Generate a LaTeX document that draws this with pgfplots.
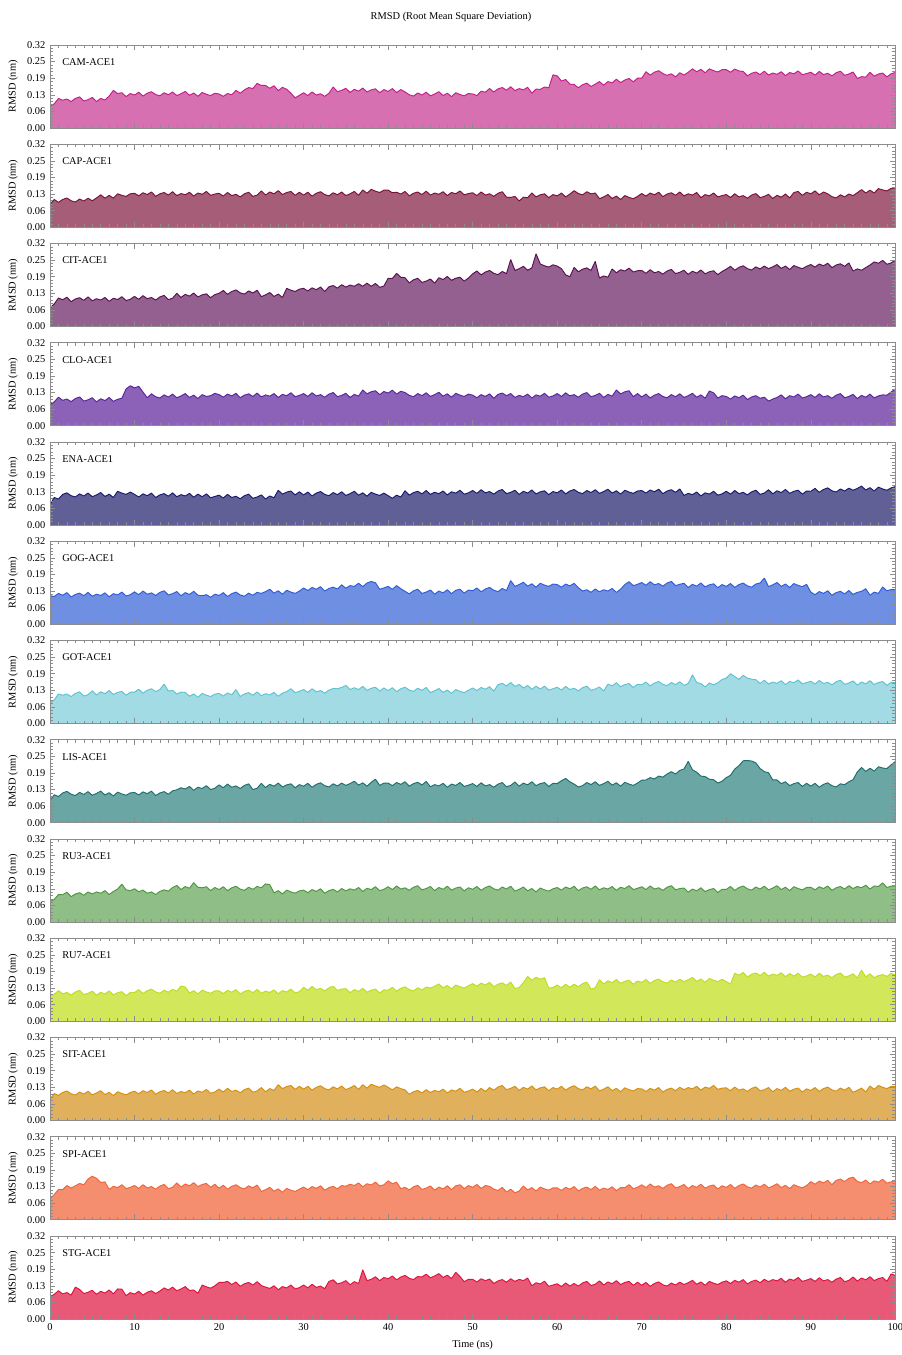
\documentclass[border=0pt]{standalone}
\usepackage{fontspec}
\setmainfont{Liberation Serif}
\usepackage{pgfplots}
\usepackage{pgfplotstable}
\pgfplotsset{compat=1.18}
\newcommand\lbl{\fontsize{7.8}{9}\selectfont}

\definecolor{camL}{HTML}{C21E87}\definecolor{camF}{HTML}{D670B0}
\definecolor{capL}{HTML}{7A0F3A}\definecolor{capF}{HTML}{A65E78}
\definecolor{citL}{HTML}{5A1050}\definecolor{citF}{HTML}{946090}
\definecolor{cloL}{HTML}{58259A}\definecolor{cloF}{HTML}{8C62B8}
\definecolor{enaL}{HTML}{191970}\definecolor{enaF}{HTML}{606096}
\definecolor{gogL}{HTML}{2F5CD6}\definecolor{gogF}{HTML}{6E8FE2}
\definecolor{gotL}{HTML}{5FC2D0}\definecolor{gotF}{HTML}{A2DBE4}
\definecolor{lisL}{HTML}{1D6E6C}\definecolor{lisF}{HTML}{69A6A4}
\definecolor{ruthreeL}{HTML}{4C9640}\definecolor{ruthreeF}{HTML}{8FBF86}
\definecolor{rusevenL}{HTML}{BEDC20}\definecolor{rusevenF}{HTML}{D2E75A}
\definecolor{sitL}{HTML}{D4900F}\definecolor{sitF}{HTML}{E0B05C}
\definecolor{spiL}{HTML}{F0643A}\definecolor{spiF}{HTML}{F48E6E}
\definecolor{stgL}{HTML}{DC143C}\definecolor{stgF}{HTML}{E85877}

% RMSD values, one every 0.5 ns from 0 to 100 ns (201 values per series)
\pgfplotstableread[row sep=\\]{y\\
0.085\\0.093\\0.114\\0.107\\0.112\\0.102\\0.114\\0.120\\0.104\\0.109\\0.118\\0.102\\0.114\\0.108\\0.123\\0.145\\0.133\\0.136\\0.121\\0.133\\
0.127\\0.138\\0.123\\0.134\\0.140\\0.129\\0.124\\0.136\\0.128\\0.139\\0.125\\0.132\\0.141\\0.126\\0.135\\0.122\\0.137\\0.130\\0.125\\0.134\\
0.131\\0.122\\0.133\\0.128\\0.145\\0.134\\0.147\\0.156\\0.152\\0.172\\0.164\\0.164\\0.153\\0.163\\0.144\\0.157\\0.149\\0.134\\0.116\\0.126\\
0.136\\0.125\\0.139\\0.127\\0.132\\0.122\\0.134\\0.158\\0.140\\0.145\\0.153\\0.137\\0.149\\0.142\\0.154\\0.139\\0.147\\0.151\\0.136\\0.148\\
0.141\\0.152\\0.137\\0.148\\0.139\\0.128\\0.123\\0.135\\0.127\\0.138\\0.124\\0.131\\0.140\\0.125\\0.134\\0.121\\0.136\\0.129\\0.124\\0.133\\
0.131\\0.125\\0.142\\0.138\\0.152\\0.139\\0.151\\0.156\\0.146\\0.159\\0.144\\0.152\\0.147\\0.157\\0.134\\0.150\\0.149\\0.158\\0.155\\0.205\\
0.201\\0.181\\0.187\\0.169\\0.168\\0.155\\0.167\\0.173\\0.160\\0.169\\0.179\\0.165\\0.179\\0.174\\0.188\\0.175\\0.185\\0.191\\0.178\\0.192\\
0.192\\0.217\\0.204\\0.215\\0.221\\0.210\\0.203\\0.209\\0.197\\0.213\\0.204\\0.215\\0.228\\0.217\\0.226\\0.213\\0.228\\0.221\\0.216\\0.225\\
0.225\\0.215\\0.227\\0.220\\0.218\\0.201\\0.211\\0.216\\0.206\\0.219\\0.204\\0.212\\0.207\\0.217\\0.202\\0.214\\0.209\\0.220\\0.205\\0.210\\
0.215\\0.204\\0.218\\0.206\\0.211\\0.201\\0.213\\0.219\\0.203\\0.208\\0.216\\0.191\\0.198\\0.196\\0.215\\0.200\\0.208\\0.212\\0.197\\0.209\\
0.214\\
}\tcam
\pgfplotstableread[row sep=\\]{y\\
0.088\\0.107\\0.096\\0.107\\0.113\\0.102\\0.097\\0.109\\0.101\\0.112\\0.102\\0.113\\0.125\\0.112\\0.123\\0.112\\0.129\\0.123\\0.119\\0.129\\
0.131\\0.121\\0.133\\0.126\\0.136\\0.119\\0.129\\0.134\\0.124\\0.137\\0.122\\0.130\\0.125\\0.135\\0.120\\0.132\\0.127\\0.138\\0.123\\0.128\\
0.131\\0.120\\0.134\\0.122\\0.127\\0.117\\0.129\\0.135\\0.119\\0.124\\0.140\\0.124\\0.136\\0.129\\0.141\\0.126\\0.134\\0.138\\0.123\\0.135\\
0.124\\0.135\\0.120\\0.131\\0.137\\0.126\\0.121\\0.133\\0.125\\0.136\\0.122\\0.129\\0.138\\0.123\\0.144\\0.131\\0.146\\0.139\\0.134\\0.143\\
0.143\\0.133\\0.135\\0.128\\0.138\\0.121\\0.131\\0.136\\0.126\\0.139\\0.124\\0.132\\0.127\\0.137\\0.122\\0.134\\0.129\\0.140\\0.125\\0.130\\
0.133\\0.122\\0.136\\0.124\\0.129\\0.119\\0.131\\0.137\\0.116\\0.115\\0.119\\0.101\\0.116\\0.114\\0.132\\0.117\\0.125\\0.129\\0.114\\0.126\\
0.121\\0.132\\0.117\\0.128\\0.141\\0.130\\0.125\\0.137\\0.129\\0.132\\0.110\\0.117\\0.126\\0.111\\0.120\\0.107\\0.122\\0.115\\0.110\\0.119\\
0.130\\0.120\\0.132\\0.125\\0.135\\0.118\\0.128\\0.133\\0.123\\0.136\\0.121\\0.129\\0.124\\0.134\\0.114\\0.126\\0.121\\0.132\\0.117\\0.122\\
0.126\\0.115\\0.129\\0.117\\0.122\\0.112\\0.124\\0.130\\0.114\\0.119\\0.127\\0.111\\0.123\\0.116\\0.128\\0.113\\0.134\\0.138\\0.123\\0.135\\
0.129\\0.140\\0.125\\0.136\\0.129\\0.118\\0.113\\0.125\\0.117\\0.128\\0.122\\0.133\\0.145\\0.132\\0.143\\0.132\\0.149\\0.144\\0.140\\0.150\\
0.152\\
}\tcap
\pgfplotstableread[row sep=\\]{y\\
0.072\\0.087\\0.110\\0.103\\0.113\\0.096\\0.106\\0.111\\0.101\\0.114\\0.099\\0.107\\0.102\\0.112\\0.097\\0.109\\0.104\\0.115\\0.100\\0.105\\
0.116\\0.105\\0.119\\0.107\\0.112\\0.102\\0.114\\0.120\\0.104\\0.109\\0.128\\0.112\\0.124\\0.117\\0.129\\0.114\\0.122\\0.126\\0.111\\0.123\\
0.128\\0.139\\0.124\\0.135\\0.141\\0.130\\0.125\\0.137\\0.129\\0.140\\0.115\\0.122\\0.131\\0.116\\0.125\\0.112\\0.147\\0.140\\0.135\\0.144\\
0.147\\0.137\\0.149\\0.142\\0.152\\0.135\\0.153\\0.158\\0.148\\0.161\\0.152\\0.160\\0.155\\0.165\\0.155\\0.167\\0.155\\0.166\\0.151\\0.156\\
0.186\\0.185\\0.205\\0.190\\0.188\\0.168\\0.180\\0.186\\0.170\\0.175\\0.183\\0.167\\0.188\\0.181\\0.193\\0.178\\0.186\\0.190\\0.175\\0.187\\
0.203\\0.214\\0.199\\0.210\\0.216\\0.205\\0.200\\0.212\\0.204\\0.258\\0.216\\0.223\\0.232\\0.217\\0.226\\0.280\\0.241\\0.234\\0.229\\0.238\\
0.233\\0.223\\0.199\\0.192\\0.228\\0.211\\0.221\\0.226\\0.216\\0.251\\0.187\\0.195\\0.190\\0.222\\0.207\\0.219\\0.214\\0.225\\0.210\\0.215\\
0.216\\0.205\\0.219\\0.207\\0.212\\0.202\\0.214\\0.220\\0.204\\0.209\\0.217\\0.201\\0.213\\0.206\\0.218\\0.203\\0.211\\0.215\\0.200\\0.212\\
0.221\\0.232\\0.217\\0.228\\0.234\\0.223\\0.218\\0.230\\0.222\\0.233\\0.223\\0.230\\0.239\\0.224\\0.233\\0.220\\0.235\\0.228\\0.223\\0.232\\
0.239\\0.229\\0.241\\0.234\\0.244\\0.227\\0.237\\0.242\\0.232\\0.245\\0.214\\0.222\\0.217\\0.227\\0.237\\0.249\\0.244\\0.255\\0.240\\0.245\\
0.256\\
}\tcit
\pgfplotstableread[row sep=\\]{y\\
0.082\\0.092\\0.110\\0.098\\0.103\\0.093\\0.105\\0.111\\0.095\\0.100\\0.108\\0.092\\0.104\\0.097\\0.109\\0.094\\0.102\\0.106\\0.142\\0.154\\
0.146\\0.152\\0.130\\0.108\\0.123\\0.112\\0.107\\0.119\\0.111\\0.122\\0.108\\0.115\\0.124\\0.109\\0.118\\0.105\\0.120\\0.113\\0.116\\0.125\\
0.120\\0.110\\0.122\\0.115\\0.125\\0.108\\0.118\\0.123\\0.113\\0.126\\0.111\\0.119\\0.114\\0.124\\0.109\\0.121\\0.116\\0.127\\0.112\\0.117\\
0.124\\0.113\\0.127\\0.115\\0.120\\0.110\\0.122\\0.128\\0.112\\0.117\\0.125\\0.109\\0.121\\0.114\\0.138\\0.123\\0.131\\0.135\\0.120\\0.132\\
0.126\\0.137\\0.122\\0.133\\0.128\\0.117\\0.112\\0.124\\0.116\\0.127\\0.113\\0.120\\0.129\\0.114\\0.123\\0.110\\0.125\\0.118\\0.113\\0.122\\
0.118\\0.108\\0.120\\0.113\\0.123\\0.106\\0.121\\0.126\\0.116\\0.124\\0.109\\0.117\\0.112\\0.122\\0.107\\0.119\\0.114\\0.125\\0.110\\0.115\\
0.124\\0.113\\0.127\\0.115\\0.120\\0.110\\0.122\\0.128\\0.112\\0.117\\0.125\\0.109\\0.121\\0.114\\0.138\\0.123\\0.131\\0.135\\0.112\\0.124\\
0.111\\0.122\\0.107\\0.118\\0.124\\0.113\\0.108\\0.120\\0.112\\0.123\\0.109\\0.116\\0.125\\0.110\\0.119\\0.106\\0.134\\0.127\\0.107\\0.116\\
0.113\\0.103\\0.115\\0.108\\0.118\\0.101\\0.111\\0.116\\0.106\\0.110\\0.095\\0.103\\0.109\\0.119\\0.104\\0.116\\0.111\\0.122\\0.107\\0.112\\
0.120\\0.109\\0.123\\0.111\\0.116\\0.106\\0.118\\0.124\\0.108\\0.113\\0.121\\0.105\\0.117\\0.110\\0.122\\0.107\\0.115\\0.119\\0.118\\0.130\\
0.142\\
}\tclo
\pgfplotstableread[row sep=\\]{y\\
0.078\\0.106\\0.100\\0.118\\0.124\\0.113\\0.108\\0.120\\0.112\\0.123\\0.109\\0.116\\0.125\\0.110\\0.119\\0.106\\0.130\\0.123\\0.118\\0.127\\
0.118\\0.108\\0.120\\0.113\\0.123\\0.106\\0.116\\0.121\\0.111\\0.124\\0.109\\0.117\\0.112\\0.122\\0.107\\0.119\\0.109\\0.120\\0.105\\0.110\\
0.115\\0.104\\0.118\\0.106\\0.111\\0.101\\0.113\\0.119\\0.103\\0.108\\0.116\\0.100\\0.112\\0.105\\0.134\\0.119\\0.127\\0.131\\0.116\\0.128\\
0.116\\0.127\\0.112\\0.123\\0.129\\0.118\\0.113\\0.125\\0.117\\0.128\\0.114\\0.121\\0.130\\0.115\\0.124\\0.111\\0.126\\0.119\\0.114\\0.123\\
0.113\\0.103\\0.115\\0.108\\0.132\\0.115\\0.125\\0.130\\0.120\\0.133\\0.118\\0.126\\0.121\\0.131\\0.116\\0.128\\0.123\\0.134\\0.119\\0.124\\
0.133\\0.122\\0.136\\0.124\\0.129\\0.119\\0.131\\0.137\\0.121\\0.126\\0.134\\0.118\\0.130\\0.123\\0.135\\0.120\\0.128\\0.132\\0.117\\0.129\\
0.124\\0.135\\0.120\\0.131\\0.137\\0.126\\0.121\\0.133\\0.125\\0.136\\0.122\\0.129\\0.138\\0.123\\0.132\\0.119\\0.134\\0.127\\0.122\\0.131\\
0.133\\0.123\\0.135\\0.128\\0.138\\0.121\\0.131\\0.136\\0.126\\0.139\\0.114\\0.122\\0.117\\0.127\\0.112\\0.124\\0.119\\0.130\\0.115\\0.120\\
0.130\\0.119\\0.133\\0.121\\0.126\\0.116\\0.128\\0.134\\0.118\\0.123\\0.136\\0.120\\0.132\\0.125\\0.137\\0.122\\0.130\\0.134\\0.119\\0.131\\
0.130\\0.141\\0.126\\0.137\\0.143\\0.132\\0.127\\0.139\\0.131\\0.142\\0.134\\0.141\\0.150\\0.135\\0.144\\0.131\\0.146\\0.139\\0.134\\0.143\\
0.148\\
}\tena
\pgfplotstableread[row sep=\\]{y\\
0.110\\0.107\\0.119\\0.112\\0.122\\0.105\\0.115\\0.120\\0.110\\0.123\\0.108\\0.116\\0.111\\0.121\\0.106\\0.118\\0.113\\0.124\\0.109\\0.114\\
0.125\\0.114\\0.128\\0.116\\0.121\\0.111\\0.123\\0.129\\0.113\\0.118\\0.126\\0.110\\0.122\\0.115\\0.127\\0.112\\0.110\\0.114\\0.104\\0.116\\
0.111\\0.122\\0.107\\0.118\\0.124\\0.113\\0.108\\0.120\\0.112\\0.123\\0.119\\0.126\\0.135\\0.120\\0.129\\0.116\\0.131\\0.124\\0.119\\0.128\\
0.140\\0.130\\0.142\\0.135\\0.145\\0.128\\0.138\\0.143\\0.136\\0.152\\0.139\\0.149\\0.146\\0.158\\0.145\\0.159\\0.165\\0.160\\0.135\\0.140\\
0.146\\0.135\\0.149\\0.137\\0.127\\0.117\\0.129\\0.135\\0.119\\0.124\\0.132\\0.116\\0.128\\0.121\\0.133\\0.118\\0.131\\0.135\\0.120\\0.132\\
0.129\\0.140\\0.125\\0.136\\0.142\\0.131\\0.126\\0.138\\0.130\\0.168\\0.146\\0.153\\0.162\\0.147\\0.156\\0.143\\0.158\\0.151\\0.146\\0.155\\
0.153\\0.143\\0.155\\0.148\\0.158\\0.141\\0.128\\0.133\\0.123\\0.136\\0.125\\0.133\\0.128\\0.138\\0.123\\0.135\\0.153\\0.164\\0.149\\0.154\\
0.161\\0.150\\0.164\\0.152\\0.157\\0.147\\0.159\\0.165\\0.149\\0.154\\0.158\\0.142\\0.154\\0.147\\0.159\\0.144\\0.152\\0.156\\0.141\\0.153\\
0.146\\0.157\\0.142\\0.153\\0.159\\0.148\\0.143\\0.155\\0.159\\0.178\\0.145\\0.152\\0.161\\0.146\\0.155\\0.142\\0.157\\0.150\\0.145\\0.154\\
0.124\\0.114\\0.126\\0.119\\0.129\\0.112\\0.122\\0.127\\0.117\\0.130\\0.115\\0.123\\0.127\\0.137\\0.112\\0.124\\0.119\\0.144\\0.129\\0.134\\
0.133\\
}\tgog
\pgfplotstableread[row sep=\\]{y\\
0.079\\0.091\\0.114\\0.109\\0.114\\0.104\\0.116\\0.122\\0.106\\0.111\\0.126\\0.110\\0.122\\0.115\\0.127\\0.112\\0.120\\0.124\\0.109\\0.121\\
0.121\\0.132\\0.117\\0.128\\0.134\\0.123\\0.131\\0.152\\0.125\\0.128\\0.114\\0.121\\0.120\\0.105\\0.114\\0.101\\0.116\\0.109\\0.104\\0.113\\
0.116\\0.106\\0.118\\0.111\\0.131\\0.104\\0.114\\0.119\\0.109\\0.122\\0.107\\0.115\\0.110\\0.120\\0.105\\0.117\\0.123\\0.134\\0.119\\0.124\\
0.131\\0.120\\0.134\\0.122\\0.127\\0.117\\0.129\\0.135\\0.134\\0.139\\0.147\\0.131\\0.138\\0.131\\0.143\\0.128\\0.136\\0.140\\0.125\\0.137\\
0.127\\0.138\\0.123\\0.134\\0.140\\0.129\\0.124\\0.136\\0.128\\0.139\\0.119\\0.126\\0.135\\0.120\\0.129\\0.116\\0.131\\0.124\\0.119\\0.128\\
0.137\\0.127\\0.139\\0.132\\0.142\\0.125\\0.150\\0.155\\0.145\\0.158\\0.143\\0.151\\0.137\\0.147\\0.132\\0.144\\0.133\\0.144\\0.129\\0.134\\
0.140\\0.129\\0.143\\0.131\\0.136\\0.126\\0.138\\0.144\\0.128\\0.133\\0.141\\0.125\\0.152\\0.145\\0.157\\0.142\\0.150\\0.154\\0.139\\0.151\\
0.149\\0.160\\0.145\\0.156\\0.162\\0.151\\0.146\\0.158\\0.150\\0.161\\0.147\\0.154\\0.188\\0.158\\0.154\\0.141\\0.156\\0.149\\0.157\\0.170\\
0.175\\0.192\\0.181\\0.170\\0.186\\0.175\\0.171\\0.169\\0.154\\0.167\\0.152\\0.160\\0.155\\0.165\\0.150\\0.162\\0.157\\0.168\\0.153\\0.158\\
0.163\\0.152\\0.166\\0.154\\0.159\\0.149\\0.161\\0.167\\0.151\\0.156\\0.164\\0.148\\0.160\\0.153\\0.165\\0.150\\0.158\\0.162\\0.147\\0.159\\
0.157\\
}\tgot
\pgfplotstableread[row sep=\\]{y\\
0.086\\0.108\\0.101\\0.115\\0.121\\0.110\\0.105\\0.117\\0.109\\0.120\\0.106\\0.113\\0.122\\0.107\\0.116\\0.103\\0.118\\0.111\\0.106\\0.115\\
0.117\\0.107\\0.119\\0.112\\0.122\\0.105\\0.115\\0.120\\0.110\\0.123\\0.127\\0.135\\0.130\\0.140\\0.125\\0.137\\0.132\\0.143\\0.128\\0.133\\
0.146\\0.135\\0.149\\0.137\\0.142\\0.132\\0.144\\0.150\\0.128\\0.133\\0.152\\0.136\\0.148\\0.141\\0.153\\0.138\\0.146\\0.150\\0.135\\0.147\\
0.141\\0.152\\0.137\\0.148\\0.154\\0.143\\0.138\\0.150\\0.142\\0.153\\0.144\\0.151\\0.160\\0.145\\0.154\\0.141\\0.156\\0.168\\0.144\\0.153\\
0.153\\0.143\\0.155\\0.148\\0.158\\0.141\\0.151\\0.156\\0.146\\0.159\\0.139\\0.147\\0.142\\0.152\\0.137\\0.149\\0.144\\0.155\\0.140\\0.145\\
0.151\\0.140\\0.154\\0.142\\0.147\\0.137\\0.149\\0.155\\0.139\\0.144\\0.157\\0.141\\0.153\\0.146\\0.158\\0.143\\0.151\\0.155\\0.140\\0.152\\
0.151\\0.162\\0.171\\0.158\\0.149\\0.138\\0.143\\0.155\\0.147\\0.158\\0.144\\0.151\\0.160\\0.145\\0.154\\0.141\\0.156\\0.149\\0.144\\0.153\\
0.164\\0.165\\0.174\\0.169\\0.180\\0.176\\0.188\\0.197\\0.188\\0.202\\0.207\\0.237\\0.204\\0.195\\0.180\\0.178\\0.168\\0.166\\0.153\\0.160\\
0.174\\0.183\\0.207\\0.220\\0.239\\0.240\\0.238\\0.231\\0.209\\0.197\\0.193\\0.165\\0.165\\0.151\\0.158\\0.143\\0.151\\0.155\\0.140\\0.152\\
0.141\\0.152\\0.137\\0.148\\0.154\\0.143\\0.138\\0.150\\0.147\\0.158\\0.166\\0.196\\0.213\\0.198\\0.210\\0.199\\0.216\\0.211\\0.209\\0.223\\
0.236\\
}\tlis
\pgfplotstableread[row sep=\\]{y\\
0.079\\0.087\\0.106\\0.105\\0.115\\0.098\\0.108\\0.113\\0.103\\0.116\\0.108\\0.116\\0.111\\0.121\\0.106\\0.118\\0.127\\0.146\\0.124\\0.121\\
0.128\\0.117\\0.123\\0.111\\0.116\\0.106\\0.118\\0.124\\0.119\\0.133\\0.141\\0.125\\0.137\\0.130\\0.152\\0.134\\0.132\\0.136\\0.121\\0.133\\
0.125\\0.136\\0.121\\0.132\\0.138\\0.127\\0.122\\0.134\\0.126\\0.137\\0.132\\0.147\\0.144\\0.112\\0.121\\0.108\\0.123\\0.116\\0.111\\0.120\\
0.123\\0.113\\0.125\\0.118\\0.128\\0.111\\0.121\\0.126\\0.116\\0.129\\0.120\\0.128\\0.123\\0.133\\0.118\\0.130\\0.125\\0.136\\0.121\\0.126\\
0.136\\0.125\\0.139\\0.127\\0.132\\0.122\\0.134\\0.140\\0.124\\0.129\\0.137\\0.121\\0.133\\0.126\\0.138\\0.123\\0.131\\0.135\\0.120\\0.132\\
0.126\\0.137\\0.122\\0.133\\0.139\\0.128\\0.123\\0.135\\0.127\\0.138\\0.119\\0.126\\0.135\\0.120\\0.129\\0.116\\0.131\\0.124\\0.119\\0.128\\
0.133\\0.123\\0.135\\0.128\\0.138\\0.121\\0.131\\0.136\\0.126\\0.139\\0.124\\0.132\\0.127\\0.137\\0.122\\0.134\\0.129\\0.140\\0.125\\0.130\\
0.136\\0.125\\0.139\\0.127\\0.132\\0.122\\0.134\\0.140\\0.124\\0.129\\0.131\\0.115\\0.127\\0.120\\0.132\\0.117\\0.125\\0.129\\0.114\\0.126\\
0.126\\0.137\\0.122\\0.133\\0.139\\0.128\\0.123\\0.135\\0.127\\0.138\\0.124\\0.131\\0.140\\0.125\\0.134\\0.121\\0.136\\0.129\\0.124\\0.133\\
0.134\\0.124\\0.136\\0.129\\0.139\\0.122\\0.132\\0.137\\0.127\\0.140\\0.129\\0.137\\0.132\\0.142\\0.127\\0.139\\0.137\\0.151\\0.133\\0.138\\
0.139\\
}\truthree
\pgfplotstableread[row sep=\\]{y\\
0.098\\0.104\\0.118\\0.106\\0.111\\0.101\\0.113\\0.119\\0.103\\0.108\\0.116\\0.100\\0.112\\0.105\\0.117\\0.102\\0.110\\0.114\\0.099\\0.111\\
0.111\\0.122\\0.107\\0.118\\0.124\\0.113\\0.108\\0.120\\0.112\\0.123\\0.116\\0.136\\0.132\\0.109\\0.118\\0.105\\0.120\\0.113\\0.108\\0.117\\
0.117\\0.107\\0.119\\0.112\\0.122\\0.105\\0.115\\0.120\\0.110\\0.123\\0.108\\0.116\\0.111\\0.121\\0.106\\0.118\\0.113\\0.124\\0.109\\0.114\\
0.131\\0.120\\0.134\\0.122\\0.127\\0.117\\0.129\\0.135\\0.119\\0.124\\0.126\\0.110\\0.122\\0.115\\0.127\\0.112\\0.120\\0.124\\0.109\\0.121\\
0.120\\0.131\\0.116\\0.127\\0.133\\0.122\\0.117\\0.129\\0.121\\0.132\\0.128\\0.135\\0.144\\0.129\\0.138\\0.125\\0.140\\0.133\\0.128\\0.137\\
0.145\\0.135\\0.147\\0.140\\0.150\\0.133\\0.143\\0.148\\0.138\\0.151\\0.126\\0.130\\0.149\\0.173\\0.158\\0.170\\0.162\\0.168\\0.128\\0.130\\
0.140\\0.129\\0.143\\0.131\\0.143\\0.133\\0.145\\0.151\\0.124\\0.129\\0.160\\0.144\\0.156\\0.149\\0.161\\0.146\\0.154\\0.158\\0.143\\0.155\\
0.150\\0.161\\0.146\\0.157\\0.163\\0.152\\0.147\\0.159\\0.151\\0.162\\0.153\\0.160\\0.169\\0.154\\0.163\\0.150\\0.165\\0.158\\0.153\\0.162\\
0.153\\0.143\\0.185\\0.178\\0.188\\0.171\\0.181\\0.186\\0.176\\0.189\\0.174\\0.182\\0.177\\0.187\\0.172\\0.184\\0.174\\0.185\\0.170\\0.175\\
0.182\\0.171\\0.185\\0.173\\0.178\\0.168\\0.180\\0.186\\0.170\\0.175\\0.183\\0.167\\0.197\\0.171\\0.183\\0.168\\0.176\\0.180\\0.173\\0.185\\
0.179\\
}\truseven
\pgfplotstableread[row sep=\\]{y\\
0.081\\0.104\\0.097\\0.108\\0.114\\0.103\\0.098\\0.110\\0.102\\0.113\\0.099\\0.106\\0.115\\0.100\\0.109\\0.096\\0.111\\0.104\\0.099\\0.108\\
0.113\\0.103\\0.115\\0.108\\0.118\\0.101\\0.111\\0.116\\0.106\\0.119\\0.104\\0.112\\0.107\\0.117\\0.102\\0.114\\0.109\\0.120\\0.105\\0.110\\
0.121\\0.110\\0.124\\0.112\\0.117\\0.107\\0.119\\0.125\\0.109\\0.114\\0.127\\0.111\\0.123\\0.116\\0.138\\0.123\\0.131\\0.135\\0.120\\0.132\\
0.121\\0.132\\0.117\\0.128\\0.134\\0.123\\0.118\\0.130\\0.122\\0.133\\0.119\\0.126\\0.135\\0.120\\0.138\\0.125\\0.140\\0.133\\0.128\\0.137\\
0.128\\0.118\\0.130\\0.123\\0.118\\0.101\\0.111\\0.116\\0.106\\0.119\\0.108\\0.116\\0.111\\0.121\\0.106\\0.118\\0.113\\0.124\\0.109\\0.114\\
0.121\\0.110\\0.124\\0.112\\0.127\\0.117\\0.129\\0.135\\0.119\\0.124\\0.132\\0.116\\0.128\\0.121\\0.133\\0.118\\0.126\\0.130\\0.115\\0.127\\
0.121\\0.132\\0.117\\0.128\\0.134\\0.123\\0.118\\0.130\\0.122\\0.133\\0.114\\0.121\\0.130\\0.115\\0.124\\0.111\\0.126\\0.119\\0.114\\0.123\\
0.122\\0.112\\0.124\\0.117\\0.127\\0.110\\0.120\\0.125\\0.115\\0.128\\0.119\\0.127\\0.122\\0.132\\0.117\\0.129\\0.124\\0.135\\0.120\\0.125\\
0.126\\0.115\\0.129\\0.117\\0.122\\0.112\\0.124\\0.130\\0.114\\0.119\\0.127\\0.111\\0.123\\0.116\\0.128\\0.113\\0.121\\0.125\\0.110\\0.122\\
0.116\\0.127\\0.112\\0.123\\0.129\\0.118\\0.113\\0.125\\0.117\\0.128\\0.109\\0.116\\0.125\\0.110\\0.133\\0.120\\0.135\\0.128\\0.123\\0.132\\
0.131\\
}\tsit
\pgfplotstableread[row sep=\\]{y\\
0.082\\0.097\\0.117\\0.116\\0.132\\0.122\\0.131\\0.140\\0.135\\0.157\\0.168\\0.160\\0.144\\0.146\\0.117\\0.129\\0.124\\0.135\\0.120\\0.125\\
0.132\\0.121\\0.135\\0.123\\0.128\\0.118\\0.130\\0.136\\0.120\\0.125\\0.142\\0.126\\0.138\\0.131\\0.143\\0.128\\0.136\\0.140\\0.125\\0.137\\
0.122\\0.133\\0.118\\0.129\\0.135\\0.124\\0.119\\0.131\\0.123\\0.134\\0.109\\0.116\\0.125\\0.110\\0.119\\0.106\\0.121\\0.114\\0.109\\0.118\\
0.126\\0.116\\0.128\\0.121\\0.131\\0.114\\0.124\\0.129\\0.119\\0.132\\0.129\\0.137\\0.132\\0.142\\0.127\\0.139\\0.134\\0.145\\0.130\\0.135\\
0.150\\0.139\\0.145\\0.120\\0.125\\0.115\\0.127\\0.133\\0.117\\0.122\\0.130\\0.114\\0.126\\0.119\\0.131\\0.116\\0.131\\0.135\\0.120\\0.132\\
0.125\\0.136\\0.121\\0.132\\0.129\\0.118\\0.113\\0.125\\0.107\\0.118\\0.104\\0.111\\0.130\\0.115\\0.124\\0.111\\0.126\\0.119\\0.114\\0.123\\
0.123\\0.113\\0.125\\0.118\\0.128\\0.111\\0.121\\0.126\\0.116\\0.129\\0.114\\0.122\\0.117\\0.127\\0.112\\0.124\\0.124\\0.135\\0.120\\0.125\\
0.135\\0.124\\0.138\\0.126\\0.131\\0.121\\0.133\\0.139\\0.123\\0.128\\0.136\\0.120\\0.132\\0.125\\0.137\\0.122\\0.130\\0.134\\0.119\\0.131\\
0.125\\0.136\\0.121\\0.132\\0.138\\0.127\\0.122\\0.134\\0.126\\0.137\\0.123\\0.130\\0.139\\0.124\\0.133\\0.120\\0.135\\0.128\\0.123\\0.132\\
0.147\\0.137\\0.149\\0.142\\0.152\\0.135\\0.152\\0.157\\0.147\\0.160\\0.164\\0.148\\0.143\\0.153\\0.138\\0.150\\0.145\\0.156\\0.141\\0.146\\
0.152\\
}\tspi
\pgfplotstableread[row sep=\\]{y\\
0.086\\0.095\\0.109\\0.097\\0.102\\0.092\\0.123\\0.114\\0.098\\0.103\\0.111\\0.095\\0.107\\0.100\\0.112\\0.097\\0.116\\0.115\\0.090\\0.102\\
0.096\\0.107\\0.092\\0.103\\0.109\\0.098\\0.108\\0.120\\0.112\\0.123\\0.109\\0.116\\0.125\\0.110\\0.112\\0.099\\0.131\\0.124\\0.119\\0.128\\
0.141\\0.141\\0.145\\0.133\\0.143\\0.126\\0.136\\0.141\\0.131\\0.144\\0.129\\0.123\\0.118\\0.128\\0.113\\0.125\\0.120\\0.131\\0.116\\0.121\\
0.131\\0.120\\0.134\\0.122\\0.127\\0.117\\0.145\\0.151\\0.135\\0.140\\0.148\\0.132\\0.144\\0.137\\0.190\\0.148\\0.153\\0.163\\0.148\\0.160\\
0.155\\0.166\\0.151\\0.162\\0.168\\0.157\\0.152\\0.164\\0.162\\0.173\\0.159\\0.166\\0.175\\0.160\\0.169\\0.156\\0.180\\0.164\\0.144\\0.153\\
0.153\\0.143\\0.155\\0.148\\0.154\\0.137\\0.147\\0.152\\0.142\\0.155\\0.145\\0.153\\0.148\\0.158\\0.128\\0.140\\0.135\\0.146\\0.126\\0.131\\
0.136\\0.125\\0.139\\0.127\\0.137\\0.127\\0.139\\0.145\\0.129\\0.134\\0.147\\0.131\\0.143\\0.136\\0.148\\0.133\\0.141\\0.145\\0.130\\0.142\\
0.130\\0.141\\0.126\\0.137\\0.143\\0.132\\0.127\\0.139\\0.131\\0.142\\0.133\\0.140\\0.149\\0.134\\0.143\\0.130\\0.145\\0.138\\0.133\\0.142\\
0.147\\0.137\\0.149\\0.142\\0.152\\0.135\\0.145\\0.150\\0.140\\0.153\\0.144\\0.152\\0.147\\0.157\\0.142\\0.154\\0.149\\0.160\\0.145\\0.150\\
0.156\\0.145\\0.159\\0.147\\0.152\\0.142\\0.154\\0.160\\0.144\\0.149\\0.162\\0.146\\0.158\\0.151\\0.163\\0.148\\0.156\\0.160\\0.145\\0.174\\
0.168\\
}\tstg

\pgfplotsset{
  panel/.style={
    scale only axis, width=634pt, height=62.25pt,
    xmin=0, xmax=100, ymin=0, ymax=0.32,
    xtick={0,10,...,100}, minor x tick num=9,
    ytick={0,0.064,0.128,0.192,0.256,0.32},
    yticklabels={0.00,0.06,0.13,0.19,0.25,0.32},
    minor y tick num=4,
    tick align=inside, tick pos=both,
    xticklabel pos=lower, yticklabel pos=left,
    major tick length=4pt, minor tick length=2.2pt,
    axis line style={black!45, line width=0.5pt},
    tick style={black!45, line width=0.4pt},
    tick label style={font=\lbl, text=black},
    /pgf/number format/assume math mode=true,
    ylabel={RMSD (nm)}, ylabel style={font=\lbl},
    xlabel style={font=\lbl},
    axis on top,
    clip=true,
  },
}

\newcommand{\rmsdpanel}[5]{%
\begin{axis}[panel, at={(37.5pt,-#1pt)}, anchor=north west, #5]
\addplot[draw=none, fill=#4F] table[x expr=\coordindex*0.5, y=y] {#3} \closedcycle;
\addplot[#4L, line width=0.7pt, line join=bevel] table[x expr=\coordindex*0.5, y=y] {#3};
\node[anchor=west, font=\lbl, inner sep=0pt] at (rel axis cs:0.0142,0.795) {#2};
\end{axis}}

\begin{document}
\begin{tikzpicture}
\path[use as bounding box] (0,0) rectangle (676.5pt,-1016.25pt);
\node[font=\lbl] at (338.25pt,-12.75pt) {RMSD (Root Mean Square Deviation)};
\rmsdpanel{33.75}{CAM-ACE1}{\tcam}{cam}{xticklabels={}}
\rmsdpanel{108.19}{CAP-ACE1}{\tcap}{cap}{xticklabels={}}
\rmsdpanel{182.63}{CIT-ACE1}{\tcit}{cit}{xticklabels={}}
\rmsdpanel{257.06}{CLO-ACE1}{\tclo}{clo}{xticklabels={}}
\rmsdpanel{331.5}{ENA-ACE1}{\tena}{ena}{xticklabels={}}
\rmsdpanel{405.94}{GOG-ACE1}{\tgog}{gog}{xticklabels={}}
\rmsdpanel{480.38}{GOT-ACE1}{\tgot}{got}{xticklabels={}}
\rmsdpanel{554.81}{LIS-ACE1}{\tlis}{lis}{xticklabels={}}
\rmsdpanel{629.25}{RU3-ACE1}{\truthree}{ruthree}{xticklabels={}}
\rmsdpanel{703.69}{RU7-ACE1}{\truseven}{ruseven}{xticklabels={}}
\rmsdpanel{778.13}{SIT-ACE1}{\tsit}{sit}{xticklabels={}}
\rmsdpanel{852.56}{SPI-ACE1}{\tspi}{spi}{xticklabels={}}
\rmsdpanel{927.0}{STG-ACE1}{\tstg}{stg}{xlabel={Time (ns)}}
\end{tikzpicture}
\end{document}
